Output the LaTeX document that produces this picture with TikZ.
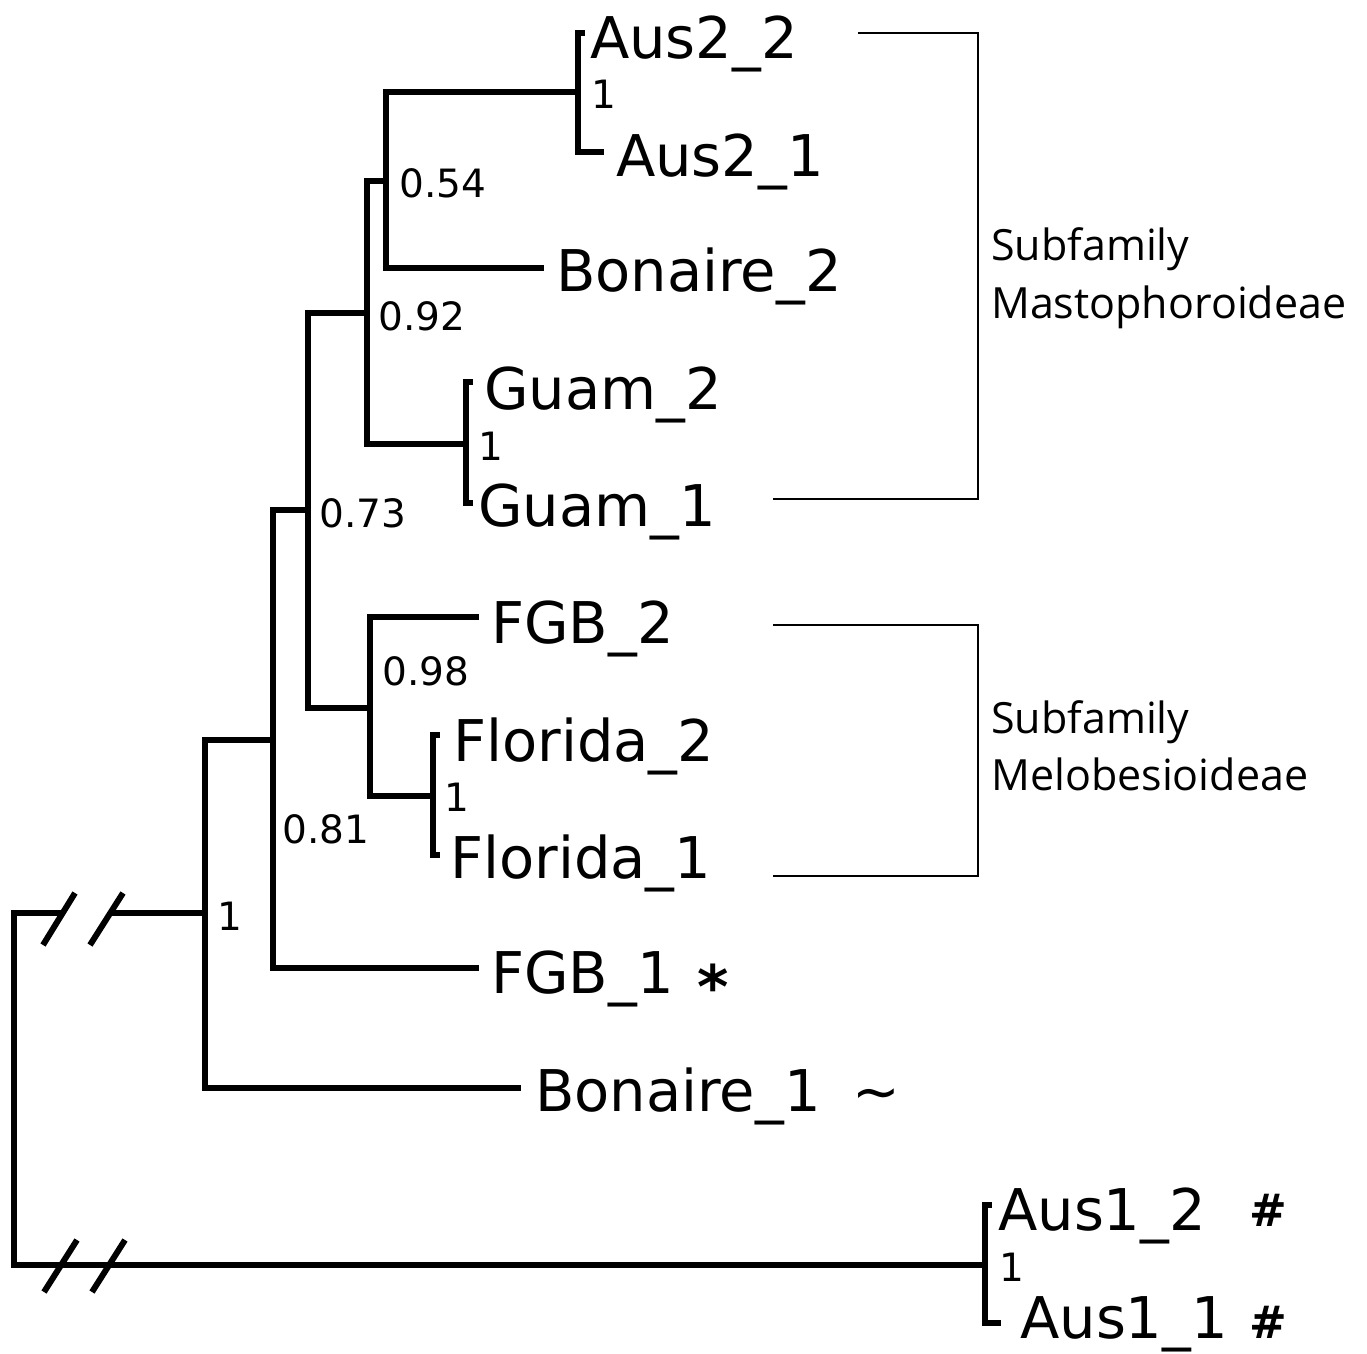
\documentclass[tikz,border=0pt]{standalone}
\usepackage{fontspec}
\setmainfont{DejaVu Sans}
\newfontfamily\osans{Open Sans}
\begin{document}
\begin{tikzpicture}[x=1pt,y=-1pt,
  branch/.style={line width=6pt, line join=miter, line cap=rect},
  slash/.style={line width=6pt, line cap=butt},
  brack/.style={line width=2.5pt, line join=miter},
  taxon/.style={anchor=base west, inner sep=0pt, font=\fontsize{57.5}{60}\selectfont},
  symb/.style={anchor=base west, inner sep=0pt, font=\fontsize{57}{60}\selectfont},
  supp/.style={anchor=base west, inner sep=0pt, font=\fontsize{39}{42}\selectfont},
  sublab/.style={anchor=base west, inner sep=0pt, font=\osans\fontsize{43}{58}\selectfont}]
\useasboundingbox (0,0) rectangle (1367,1353);
% internal nodes
\coordinate (R) at (14,1089);
\coordinate (A) at (205,913);
\coordinate (B) at (273,740);
\coordinate (C) at (308,510);
\coordinate (D) at (367,313);
\coordinate (E) at (370,708);
\coordinate (F) at (386,181);
\coordinate (G) at (466,444);
\coordinate (H) at (578,92);
\coordinate (I) at (433,796);
\coordinate (J) at (985,1265);
% leaf ends
\coordinate (tA22) at (582,33);
\coordinate (tA21) at (601,152);
\coordinate (tBon2) at (541,268);
\coordinate (tG2) at (470,382);
\coordinate (tG1) at (470,503);
\coordinate (tFGB2) at (476,617);
\coordinate (tF2) at (437,735);
\coordinate (tF1) at (437,855);
\coordinate (tFGB1) at (476,968);
\coordinate (tBon1) at (518,1088);
\coordinate (tA12) at (989,1205);
\coordinate (tA11) at (998,1323);
% break points
\coordinate (bkA1) at (60,913);
\coordinate (bkA2) at (112,913);
\coordinate (s1a) at (43,945); \coordinate (s1b) at (75,893);
\coordinate (s2a) at (90,945); \coordinate (s2b) at (123,893);
\coordinate (s3a) at (44,1292); \coordinate (s3b) at (77,1240);
\coordinate (s4a) at (92,1292); \coordinate (s4b) at (125,1240);
% branches
\draw[branch] (R) |- (bkA1);
\draw[branch] (bkA2) -- (A);
\draw[branch] (R) |- (J);
\draw[slash] (s1a) -- (s1b);
\draw[slash] (s2a) -- (s2b);
\draw[slash] (s3a) -- (s3b);
\draw[slash] (s4a) -- (s4b);
\draw[branch] (A) |- (B);
\draw[branch] (A) |- (tBon1);
\draw[branch] (B) |- (C);
\draw[branch] (B) |- (tFGB1);
\draw[branch] (C) |- (D);
\draw[branch] (C) |- (E);
\draw[branch] (D) |- (F);
\draw[branch] (D) |- (G);
\draw[branch] (F) |- (H);
\draw[branch] (F) |- (tBon2);
\draw[branch] (H) |- (tA22);
\draw[branch] (H) |- (tA21);
\draw[branch] (G) |- (tG2);
\draw[branch] (G) |- (tG1);
\draw[branch] (E) |- (tFGB2);
\draw[branch] (E) |- (I);
\draw[branch] (I) |- (tF2);
\draw[branch] (I) |- (tF1);
\draw[branch] (J) |- (tA12);
\draw[branch] (J) |- (tA11);
% taxon labels
\node[taxon] (lA22) at (590,58) {Aus2\_2};
\node[taxon] (lA21) at (616,176) {Aus2\_1};
\node[taxon] (lBon2) at (556,291) {Bonaire\_2};
\node[taxon] (lG2) at (484,409) {Guam\_2};
\node[taxon] (lG1) at (478,526) {Guam\_1};
\node[taxon] (lFGB2) at (491,643) {FGB\_2};
\node[taxon] (lF2) at (453,761) {Florida\_2};
\node[taxon] (lF1) at (450,878) {Florida\_1};
\node[taxon] (lFGB1) at (491,993) {FGB\_1};
\node[taxon] (lBon1) at (535,1111) {Bonaire\_1};
\node[taxon] (lA12) at (998,1230) {Aus1\_2};
\node[taxon] (lA11) at (1020,1338) {Aus1\_1};
% marks
\node[symb, font=\bfseries\fontsize{60}{60}\selectfont] (mFGB1) at (697,1008) {*};
\node[symb] (mBon1) at (852,1111) {\textasciitilde};
\node[symb, font=\bfseries\fontsize{45}{48}\selectfont] (mA12) at (1249,1226) {\#};
\node[symb, font=\bfseries\fontsize{45}{48}\selectfont] (mA11) at (1249,1338) {\#};
% support values
\node[supp] (sH) at (591,108) {1};
\node[supp] (sF) at (399,197) {0.54};
\node[supp] (sD) at (378,330) {0.92};
\node[supp] (sC) at (319,527) {0.73};
\node[supp] (sG) at (478,460) {1};
\node[supp] (sE) at (382,685) {0.98};
\node[supp] (sI) at (444,811) {1};
\node[supp] (sB) at (282,843) {0.81};
\node[supp] (sA) at (217,930) {1};
\node[supp] (sJ) at (999,1281) {1};
% subfamily brackets
\coordinate (m1) at (858,33); \coordinate (m2) at (978,33);
\coordinate (m3) at (978,499); \coordinate (m4) at (773,499);
\draw[brack] (m1) -- (m2) -- (m3) -- (m4);
\coordinate (n1) at (773,625); \coordinate (n2) at (978,625);
\coordinate (n3) at (978,876); \coordinate (n4) at (773,876);
\draw[brack] (n1) -- (n2) -- (n3) -- (n4);
\node[sublab] (subM1) at (991,260) {Subfamily};
\node[sublab] (subM2) at (991,318) {Mastophoroideae};
\node[sublab] (subB1) at (991,733) {Subfamily};
\node[sublab] (subB2) at (991,790) {Melobesioideae};
\end{tikzpicture}
\end{document}
